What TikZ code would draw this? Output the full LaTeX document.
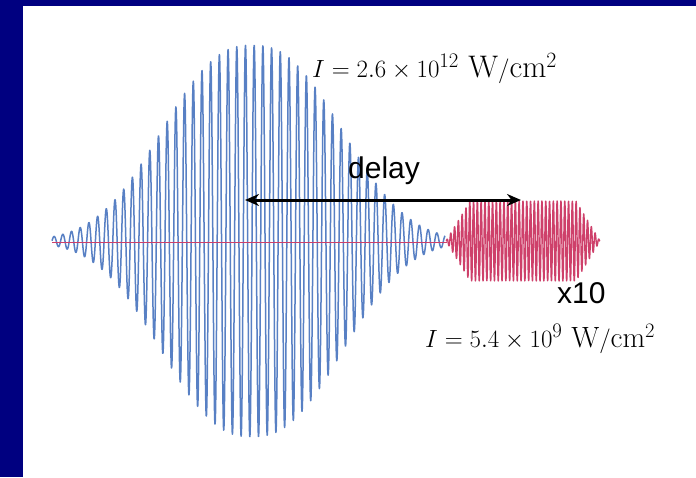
\documentclass[tikz,border=0pt]{standalone}
\usepackage{fontspec}
\setsansfont{Liberation Sans}
\usetikzlibrary{arrows.meta}
\definecolor{frameblue}{RGB}{0,0,128}
\definecolor{pulseblue}{RGB}{88,128,196}
\definecolor{pulsered}{RGB}{206,64,106}
\tikzset{
  bluepulse/.style={draw=pulseblue, line width=1.5pt, line join=round},
  redpulse/.style={draw=pulsered, line width=1.4pt, line join=round},
  baseline/.style={draw=pulsered, line width=1pt},
  delayarrow/.style={draw=black, line width=3pt, {Stealth[length=14pt,width=12pt]}-{Stealth[length=14pt,width=12pt]}},
  sanslabel/.style={font=\sffamily\fontsize{30}{34}\selectfont, inner sep=0pt},
  mathlabel/.style={inner sep=0pt}
}
\begin{document}
\begin{tikzpicture}[x=1pt,y=-1pt]
\useasboundingbox (0,0) rectangle (696,477);
\fill[frameblue] (0,0) rectangle (696,477);
\fill[white] (23,6) rectangle (696,477);
% blue pulse
\draw[bluepulse] plot[domain=52:445,samples=1800] (\x,{241-196*exp(-((abs(\x-252))/114)^2.4)*sin((\x-252)*41.379)});
% pink baseline
\coordinate (bl) at (52,242);
\coordinate (br) at (447,242);
\draw[baseline] (bl) -- (br);
% red pulse
\draw[redpulse] plot[domain=446:600,samples=900] (\x,{241-40*max(0,min(1,(\x-446)/24,(600-\x)/24))*sin((\x-446)*94.737)});
% delay arrow
\coordinate (dl) at (245,200);
\coordinate (dr) at (521,200);
\draw[delayarrow] (dl) -- (dr);
\node[sanslabel, anchor=base] (delay) at (384,178) {delay};
\node[sanslabel, anchor=base west] (x10) at (557,303) {x10};
\node[mathlabel, anchor=base west] (ihigh) at (312,77) {\fontsize{31.2}{34}\selectfont $I = 2.6\times 10^{12}\ \mathrm{W/cm^2}$};
\node[mathlabel, anchor=base west] (ilow) at (425,347) {\fontsize{29.3}{32}\selectfont $I = 5.4\times 10^{9}\ \mathrm{W/cm^2}$};
\end{tikzpicture}
\end{document}
